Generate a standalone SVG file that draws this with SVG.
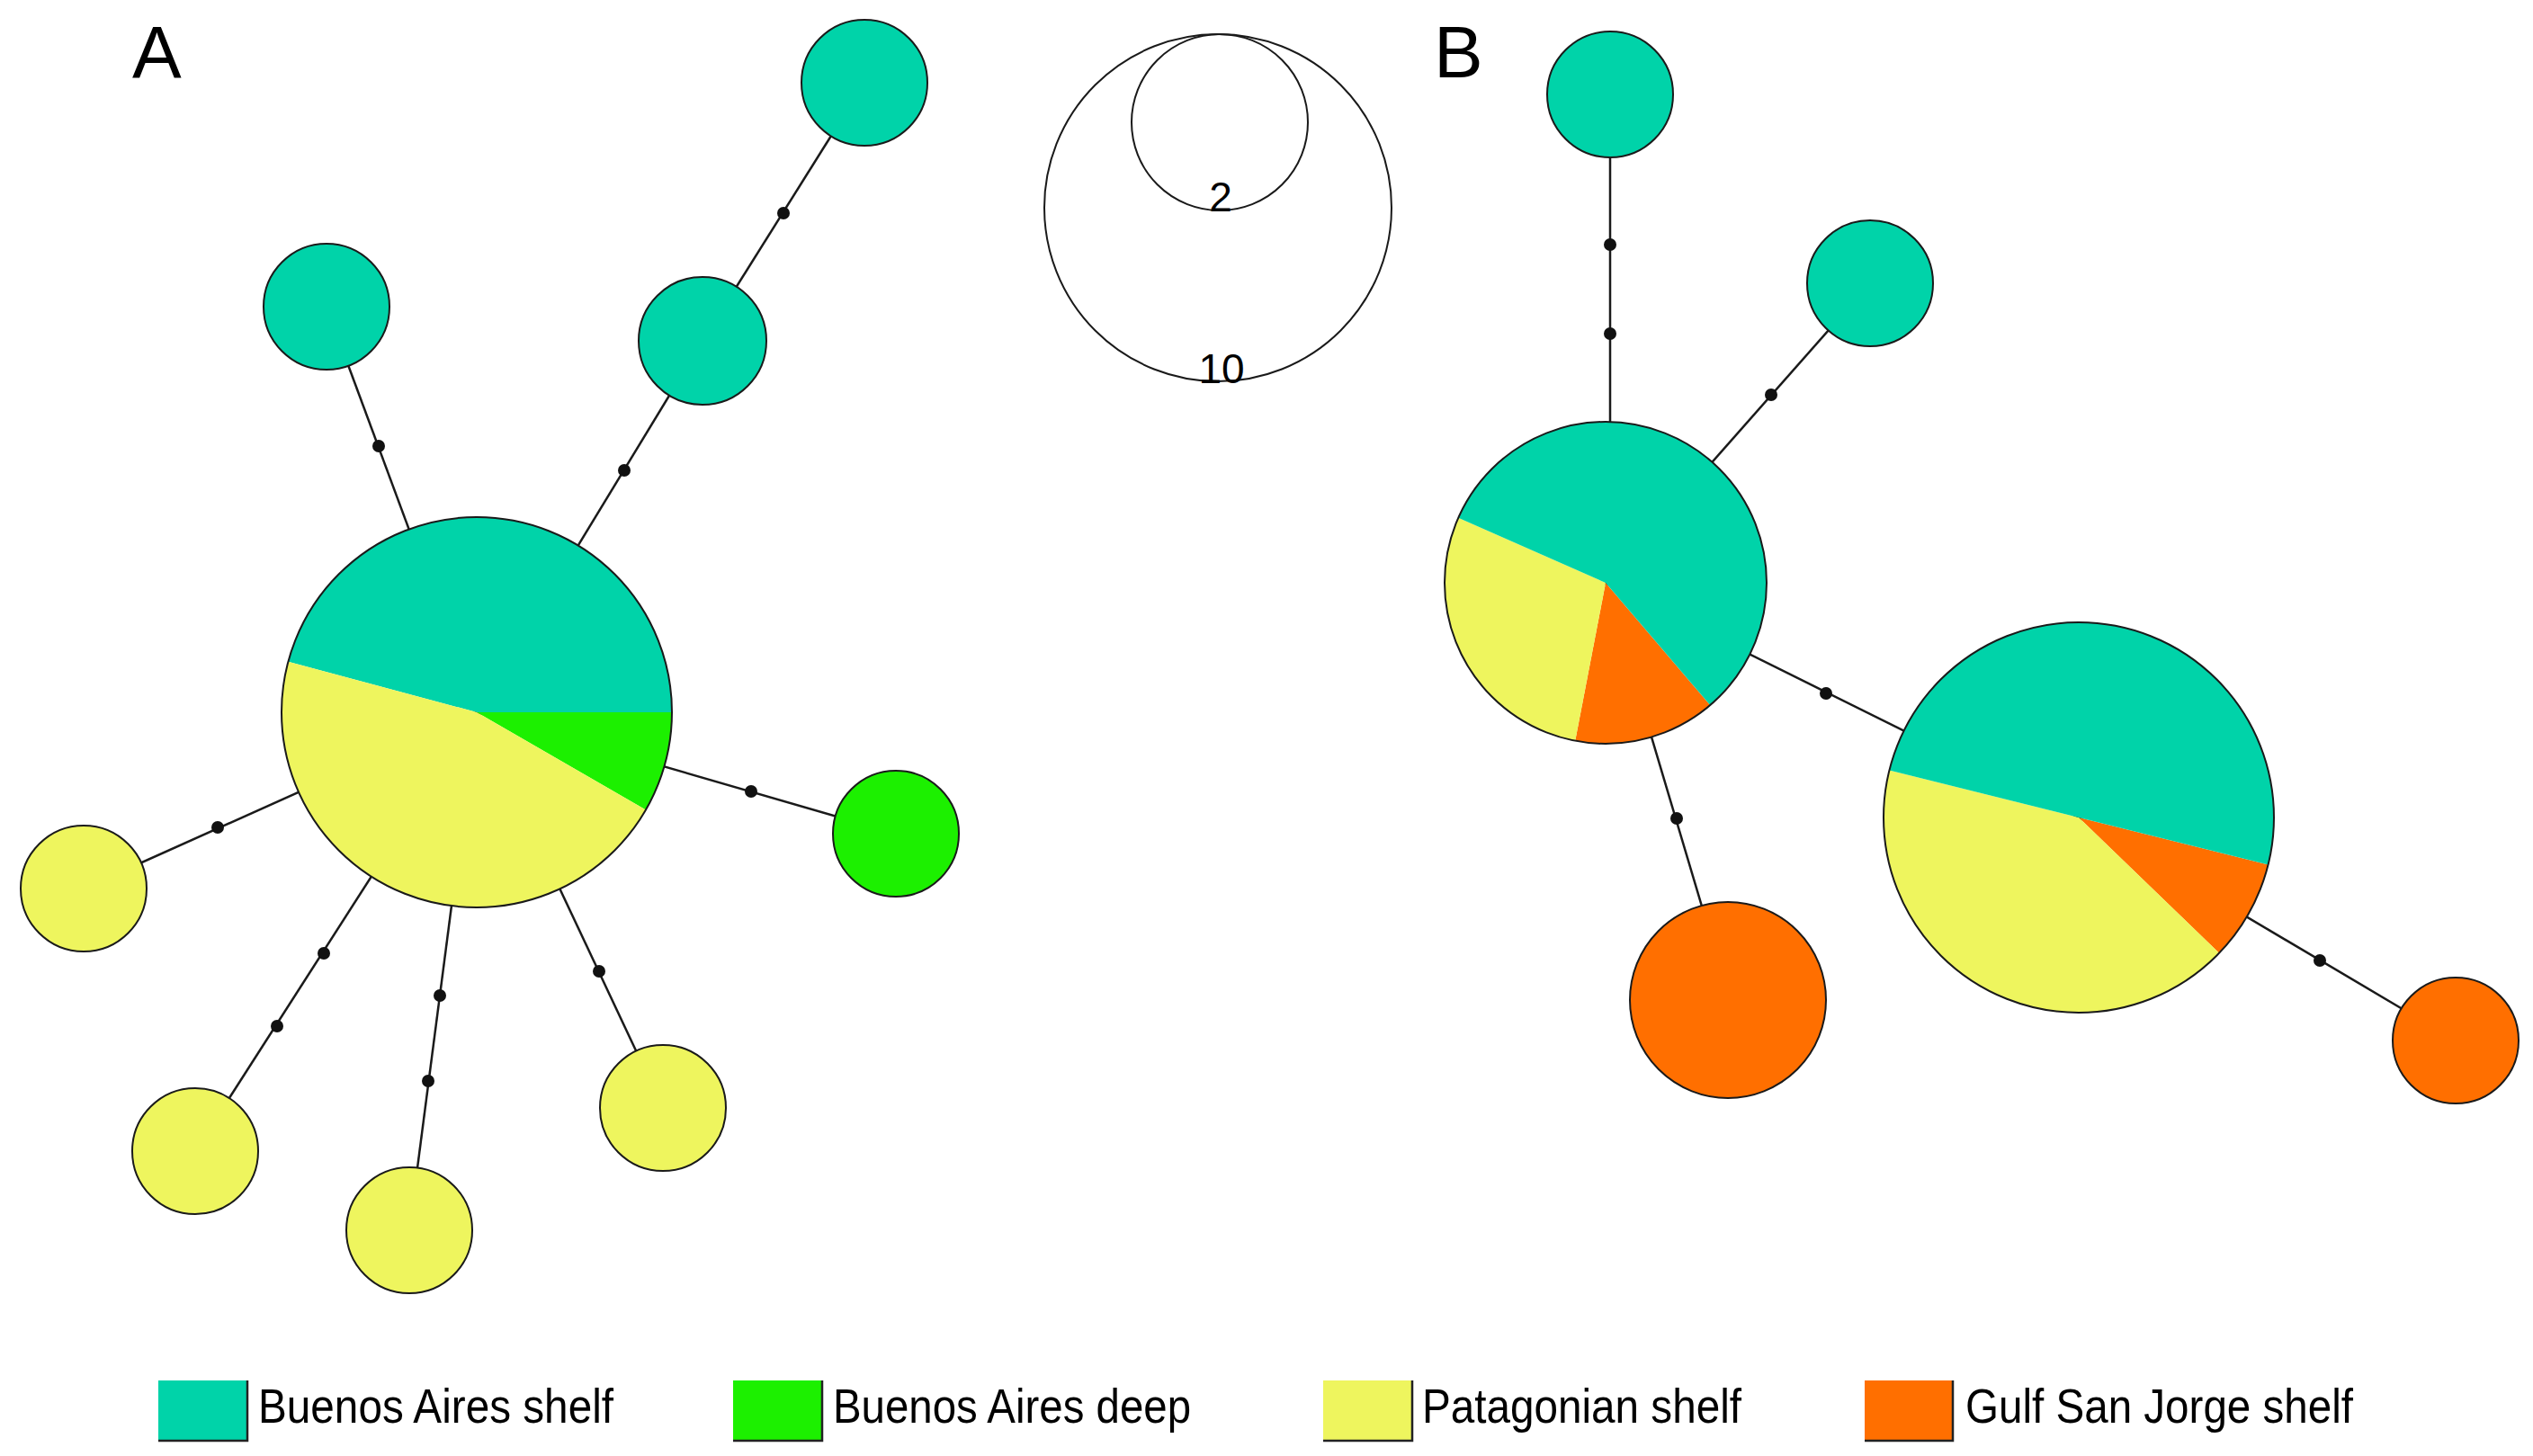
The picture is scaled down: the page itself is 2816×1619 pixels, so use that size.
<svg xmlns="http://www.w3.org/2000/svg" width="2816" height="1619" viewBox="0 0 2816 1619">
<style>
.bg{fill:#ffffff}
.teal{fill:#00D3A9}
.green{fill:#1CF000}
.yellow{fill:#EEF55E}
.orange{fill:#FF6F00}
.ol{fill:none;stroke:#1a1a1a;stroke-width:2}
.node{stroke:#1a1a1a;stroke-width:2}
.edge{stroke:#1a1a1a;stroke-width:2.5;fill:none}
.dot{fill:#111111}
.panel{font-family:"Liberation Sans",Arial,sans-serif;font-size:82px;fill:#000}
.num{font-family:"Liberation Sans",Arial,sans-serif;font-size:46px;fill:#000;text-anchor:middle}
.leg{font-family:"Liberation Sans",Arial,sans-serif;font-size:53px;fill:#000}
.sw{stroke:#222;stroke-width:2.5;fill:none}
</style>
<rect class="bg" x="0" y="0" width="2816" height="1619"/>

<text class="panel" x="147" y="86">A</text>
<text class="panel" x="1594" y="86">B</text>

<g id="connectors">
  <line class="edge" x1="530" y1="792" x2="363" y2="341"/>
  <line class="edge" x1="530" y1="792" x2="781" y2="379"/>
  <line class="edge" x1="781" y1="379" x2="961" y2="92"/>
  <line class="edge" x1="530" y1="792" x2="996" y2="927"/>
  <line class="edge" x1="530" y1="792" x2="93" y2="988"/>
  <line class="edge" x1="530" y1="792" x2="217" y2="1280"/>
  <line class="edge" x1="530" y1="792" x2="455" y2="1368"/>
  <line class="edge" x1="530" y1="792" x2="737" y2="1232"/>
  <line class="edge" x1="1790" y1="105" x2="1790" y2="648"/>
  <line class="edge" x1="2079" y1="315" x2="1785" y2="648"/>
  <line class="edge" x1="1785" y1="648" x2="2311" y2="909"/>
  <line class="edge" x1="1785" y1="648" x2="1923" y2="1112"/>
  <line class="edge" x1="2311" y1="909" x2="2730" y2="1157"/>
  <circle class="dot" cx="421" cy="496" r="7"/>
  <circle class="dot" cx="694" cy="523" r="7"/>
  <circle class="dot" cx="871" cy="237" r="7"/>
  <circle class="dot" cx="835" cy="880" r="7"/>
  <circle class="dot" cx="242" cy="920" r="7"/>
  <circle class="dot" cx="360" cy="1060" r="7"/>
  <circle class="dot" cx="308" cy="1141" r="7"/>
  <circle class="dot" cx="489" cy="1107" r="7"/>
  <circle class="dot" cx="476" cy="1202" r="7"/>
  <circle class="dot" cx="666" cy="1080" r="7"/>
  <circle class="dot" cx="1790" cy="272" r="7"/>
  <circle class="dot" cx="1790" cy="371" r="7"/>
  <circle class="dot" cx="1969" cy="439" r="7"/>
  <circle class="dot" cx="2030" cy="771" r="7"/>
  <circle class="dot" cx="1864" cy="910" r="7"/>
  <circle class="dot" cx="2579" cy="1068" r="7"/>
</g>

<g id="A-central">
  <path class="teal" d="M530,792 L747,792 A217,217 0 0,0 320.4,735.8 Z"/>
  <path class="green" d="M530,792 L747,792 A217,217 0 0,1 717.9,900.5 Z"/>
  <path class="yellow" d="M530,792 L717.9,900.5 A217,217 0 0,1 320.4,735.8 Z"/>
  <circle class="ol" cx="530" cy="792" r="217"/>
</g>
<g id="A-teal-topleft"><circle class="teal node" cx="363" cy="341" r="70"/></g>
<g id="A-teal-mid"><circle class="teal node" cx="781" cy="379" r="71"/></g>
<g id="A-teal-topright"><circle class="teal node" cx="961" cy="92" r="70"/></g>
<g id="A-green"><circle class="green node" cx="996" cy="927" r="70"/></g>
<g id="A-yellow-left"><circle class="yellow node" cx="93" cy="988" r="70"/></g>
<g id="A-yellow-bottomleft"><circle class="yellow node" cx="217" cy="1280" r="70"/></g>
<g id="A-yellow-bottom"><circle class="yellow node" cx="455" cy="1368" r="70"/></g>
<g id="A-yellow-bottomright"><circle class="yellow node" cx="737" cy="1232" r="70"/></g>

<g id="scale-legend">
  <circle class="ol" cx="1354" cy="231" r="193"/>
  <circle class="ol" cx="1356" cy="136" r="98"/>
  <text class="num" x="1357" y="235">2</text>
  <text class="num" x="1358" y="426">10</text>
</g>

<g id="B-teal-top"><circle class="teal node" cx="1790" cy="105" r="70"/></g>
<g id="B-teal-right"><circle class="teal node" cx="2079" cy="315" r="70"/></g>
<g id="B-pie1">
  <path class="orange" d="M1785,648 L1901.2,784.1 A179,179 0 0,1 1751.2,823.8 Z"/>
  <path class="yellow" d="M1785,648 L1751.2,823.8 A179,179 0 0,1 1621.2,575.8 Z"/>
  <path class="teal" d="M1785,648 L1621.2,575.8 A179,179 0 1,1 1901.2,784.1 Z"/>
  <circle class="ol" cx="1785" cy="648" r="179"/>
</g>
<g id="B-pie2">
  <path class="orange" d="M2311,909 L2521.6,961.5 A217,217 0 0,1 2467.1,1059.7 Z"/>
  <path class="yellow" d="M2311,909 L2467.1,1059.7 A217,217 0 0,1 2100.4,856.5 Z"/>
  <path class="teal" d="M2311,909 L2100.4,856.5 A217,217 0 0,1 2521.6,961.5 Z"/>
  <circle class="ol" cx="2311" cy="909" r="217"/>
</g>
<g id="B-orange-bottom"><circle class="orange node" cx="1921" cy="1112" r="109"/></g>
<g id="B-orange-right"><circle class="orange node" cx="2730" cy="1157" r="70"/></g>

<g id="legend">
  <g id="leg-ba-shelf">
    <rect class="teal" x="176" y="1535" width="99" height="67"/>
    <polyline class="sw" points="275,1535 275,1602 176,1602"/>
    <text class="leg" x="287" y="1582" textLength="395" lengthAdjust="spacingAndGlyphs">Buenos Aires shelf</text>
  </g>
  <g id="leg-ba-deep">
    <rect class="green" x="815" y="1535" width="99" height="67"/>
    <polyline class="sw" points="914,1535 914,1602 815,1602"/>
    <text class="leg" x="926" y="1582" textLength="398" lengthAdjust="spacingAndGlyphs">Buenos Aires deep</text>
  </g>
  <g id="leg-patagonian">
    <rect class="yellow" x="1471" y="1535" width="99" height="67"/>
    <polyline class="sw" points="1570,1535 1570,1602 1471,1602"/>
    <text class="leg" x="1581" y="1582" textLength="355" lengthAdjust="spacingAndGlyphs">Patagonian shelf</text>
  </g>
  <g id="leg-gsj">
    <rect class="orange" x="2073" y="1535" width="98" height="67"/>
    <polyline class="sw" points="2171,1535 2171,1602 2073,1602"/>
    <text class="leg" x="2185" y="1582" textLength="431" lengthAdjust="spacingAndGlyphs">Gulf San Jorge shelf</text>
  </g>
</g>
</svg>
